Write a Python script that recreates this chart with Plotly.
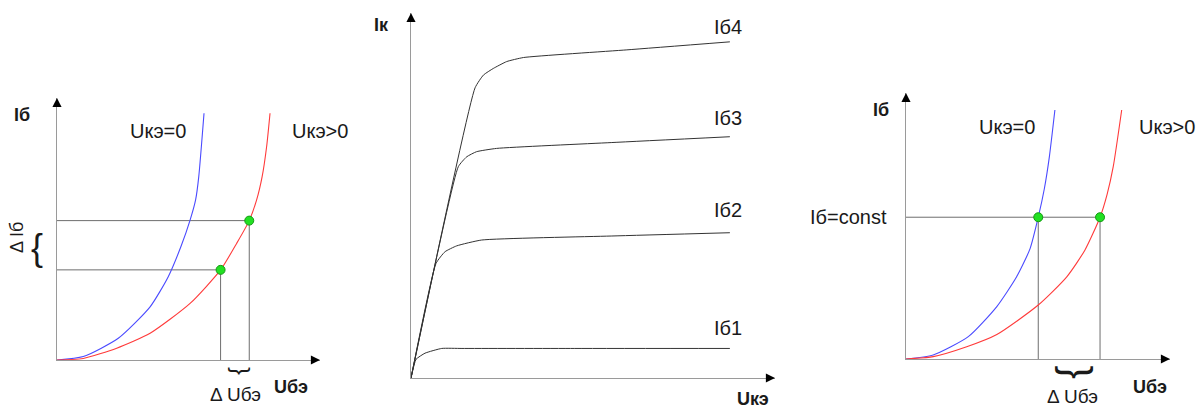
import plotly.graph_objects as go

W, H = 1200, 410

# ---------------- data (arbitrary units, 0..1 along each axis) ----------------
# Left panel: input characteristics
left_blue_u = [0.0, 0.100, 0.233, 0.354, 0.423, 0.472, 0.506, 0.527, 0.539, 0.559]
left_blue_i = [0.0, 0.013, 0.083, 0.203, 0.318, 0.435, 0.534, 0.611, 0.700, 0.942]
left_red_u = [0.0, 0.100, 0.227, 0.354, 0.506, 0.622, 0.683, 0.731, 0.759, 0.780, 0.797, 0.810]
left_red_i = [0.0, 0.006, 0.045, 0.102, 0.216, 0.344, 0.445, 0.532, 0.611, 0.700, 0.814, 0.942]
left_op_u = [0.622, 0.731]
left_op_i = [0.344, 0.532]

# Middle panel: output characteristics
out_names = ["Iб1", "Iб2", "Iб3", "Iб4"]
out_u = [
    [0.0, 0.0137, 0.0385, 0.0843, 0.14, 0.45, 0.876],
    [0.0, 0.0687, 0.0934, 0.1255, 0.194, 0.55, 0.876],
    [0.0, 0.130, 0.153, 0.180, 0.235, 0.55, 0.876],
    [0.0, 0.176, 0.199, 0.226, 0.263, 0.309, 0.593, 0.876],
]
out_i = [
    [0.0, 0.051, 0.068, 0.081, 0.081, 0.081, 0.081],
    [0.0, 0.314, 0.346, 0.362, 0.378, 0.389, 0.398],
    [0.0, 0.579, 0.606, 0.620, 0.629, 0.645, 0.661],
    [0.0, 0.795, 0.830, 0.848, 0.867, 0.878, 0.899, 0.921],
]

# Right panel: input characteristics, Iб = const
right_blue_u = [0.0, 0.103, 0.236, 0.344, 0.419, 0.470, 0.501, 0.524, 0.543, 0.564]
right_blue_i = [0.0, 0.015, 0.084, 0.197, 0.309, 0.415, 0.533, 0.640, 0.760, 0.936]
right_red_u = [0.0, 0.103, 0.230, 0.344, 0.501, 0.609, 0.678, 0.735, 0.762, 0.785, 0.817]
right_red_i = [0.0, 0.009, 0.046, 0.092, 0.203, 0.309, 0.410, 0.533, 0.620, 0.723, 0.936]
right_op_u = [0.501, 0.735]
right_op_i = [0.533, 0.533]

# ---------------- styling ----------------
FONT = "Liberation Sans, Arial, sans-serif"
TXT = "#1a1a1a"
AXC = "#9a9a9a"
GUIDE = "#6e6e6e"
BLUE = "#4a4aff"
RED = "#ff3a3a"
GREEN = "#22e022"


def px(x):
    return x / W


def py(y):
    return 1 - y / H


# panel boxes in pixels: (x0, x1, y_bottom, y_top)
boxes = {
    "1": (57, 320, 360, 98),
    "2": (411, 775, 378, 13),
    "3": (906, 1170, 359, 93),
}

fig = go.Figure()


def add_line(xs, ys, ax, color, width=1.1, shape="spline", smoothing=0.6):
    fig.add_trace(go.Scatter(x=xs, y=ys, mode="lines", xaxis="x" + ax, yaxis="y" + ax,
                             line=dict(color=color, width=width, shape=shape, smoothing=smoothing),
                             hoverinfo="skip", showlegend=False))


def add_guides(us, is_, ax, horiz_to_axis=True):
    for u, i in zip(us, is_):
        if horiz_to_axis:
            add_line([0, u], [i, i], ax, GUIDE, 1.0, "linear")
        add_line([u, u], [i, 0], ax, GUIDE, 1.0, "linear")


def add_points(us, is_, ax):
    fig.add_trace(go.Scatter(x=us, y=is_, mode="markers", xaxis="x" + ax, yaxis="y" + ax,
                             marker=dict(size=9, color=GREEN, line=dict(color="#169916", width=1)),
                             cliponaxis=False, hoverinfo="skip", showlegend=False))


# Left panel
add_guides(left_op_u, left_op_i, "1")
add_line(left_blue_u, left_blue_i, "1", BLUE)
add_line(left_red_u, left_red_i, "1", RED)
add_points(left_op_u, left_op_i, "1")

# Middle panel
for us, is_ in zip(out_u, out_i):
    add_line(us, is_, "2", "#333333", 1.0, "spline", 0.45)

# Right panel
add_line([0, max(right_op_u)], [right_op_i[0], right_op_i[0]], "3", GUIDE, 1.0, "linear")
add_guides(right_op_u, right_op_i, "3", horiz_to_axis=False)
add_line(right_blue_u, right_blue_i, "3", BLUE)
add_line(right_red_u, right_red_i, "3", RED)
add_points(right_op_u, right_op_i, "3")

layout = dict(width=W, height=H, margin=dict(l=0, r=0, t=0, b=0),
              paper_bgcolor="white", plot_bgcolor="white", showlegend=False,
              font=dict(family=FONT, color=TXT, size=19))

annotations = []
for k, (x0, x1, yb, yt) in boxes.items():
    ax_common = dict(range=[0, 1], showgrid=False, zeroline=False, showticklabels=False,
                     ticks="", showline=True, linecolor=AXC, linewidth=1.2, fixedrange=True)
    layout["xaxis" + k] = dict(ax_common, domain=[px(x0), px(x1)], anchor="y" + k)
    layout["yaxis" + k] = dict(ax_common, domain=[py(yb), py(yt)], anchor="x" + k)
    annotations.append(dict(x=0, y=1, xref="x" + k, yref="y" + k, ax=0, ay=9, text="",
                            showarrow=True, arrowhead=2, arrowsize=1.3, arrowwidth=1.4,
                            arrowcolor="black"))
    annotations.append(dict(x=1, y=0, xref="x" + k, yref="y" + k, ax=-9, ay=0, text="",
                            showarrow=True, arrowhead=2, arrowsize=1.3, arrowwidth=1.4,
                            arrowcolor="black"))


def label(text, x, y, size=19, bold=False, angle=0, color=TXT):
    t = "<b>%s</b>" % text if bold else text
    annotations.append(dict(text=t, x=px(x), y=py(y), xref="paper", yref="paper",
                            showarrow=False, xanchor="center", yanchor="middle",
                            textangle=angle, font=dict(size=size, color=color, family=FONT)))


# Left panel labels
label("Iб", 22, 115, 18, True)
label("Uкэ=0", 158, 131, 20)
label("Uкэ>0", 320, 131, 20)
label("Δ Iб", 17, 238, 18, angle=-90)
label("{", 37, 247, 36)
label("Δ Uбэ", 235, 394, 19)
label("Uбэ", 291, 387, 18, True)
label("{", 236, 371, 24, angle=-90)

# Middle panel labels
label("Iк", 381, 25, 18, True)
for name, yy in zip(out_names, [328, 210, 118, 27]):
    label(name, 728, yy, 20)
label("Uкэ", 753, 399, 18, True)

# Right panel labels
label("Iб", 881, 110, 18, True)
label("Uкэ=0", 1007, 127, 20)
label("Uкэ>0", 1167, 127, 20)
label("Iб=const", 848, 217, 20)
label("Δ Uбэ", 1072, 396, 19)
label("Uбэ", 1150, 387, 18, True)
label("{", 1071, 373, 40, angle=-90)

layout["annotations"] = annotations
fig.update_layout(**layout)

fig.write_html("out.html", config={"displayModeBar": False},
               post_script="document.body.style.margin='0';document.body.style.padding='0';")
